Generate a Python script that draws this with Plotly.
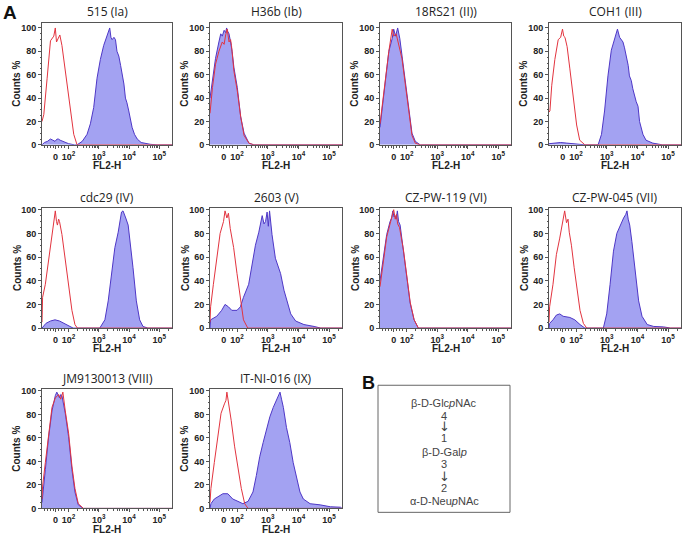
import math
import plotly.graph_objects as go

# x values are in display units of the biexponential FL2-H axis
# (2 = 10^2, 3 = 10^3, ... ; "0" sits at 1.57)
titles = ["515 (Ia)", "H36b (Ib)", "18RS21 (II))", "COH1 (III)",
          "cdc29 (IV)", "2603 (V)", "CZ-PW-119 (VI)", "CZ-PW-045 (VII)",
          "JM9130013 (VIII)", "IT-NI-016 (IX)"]

x_tickvals = [1.57, 2, 3, 4, 5]
x_ticktext = ["0", "10<sup>2</sup>", "10<sup>3</sup>", "10<sup>4</sup>", "10<sup>5</sup>"]
y_tickvals = [0, 20, 40, 60, 80, 100]

# 515 (Ia)
p1_red_x = [1.12, 1.18, 1.29, 1.40, 1.51, 1.56, 1.60, 1.64, 1.71, 1.78, 1.84, 1.95, 2.06, 2.17, 2.28, 5.42]
p1_red_y = [20, 26, 57, 89, 93, 100, 88, 90, 94, 85, 73, 51, 29, 9, 0, 0]
p1_blue_x = [1.12, 1.20, 1.30, 1.40, 1.48, 1.55, 1.62, 1.66, 1.72, 1.80, 1.90, 2.00, 2.20, 2.28, 2.45, 2.61,
             2.72, 2.83, 2.94, 3.05, 3.16, 3.27, 3.32, 3.36, 3.40, 3.44, 3.50, 3.55, 3.60, 3.66, 3.72, 3.77,
             3.83, 3.88, 3.93, 3.99, 4.05, 4.10, 4.18, 4.27, 4.40, 4.49, 4.70, 4.93, 5.42]
p1_blue_y = [0, 2, 3, 5, 4, 3, 5, 5, 4, 3, 2, 1, 0, 0, 3, 9,
             18, 32, 57, 73, 85, 93, 96, 100, 92, 90, 92, 90, 80, 76, 68, 60,
             52, 40, 36, 29, 22, 15, 9, 5, 2, 1.4, 0.5, 0, 0]

# H36b (Ib)
p2_red_x = [1.12, 1.20, 1.30, 1.41, 1.52, 1.58, 1.63, 1.68, 1.74, 1.79, 1.82, 1.90, 2.01, 2.12, 2.23, 2.39, 2.55, 5.42]
p2_red_y = [27, 49, 69, 80, 88, 86, 94, 99, 88, 90, 85, 63, 46, 24, 8, 1.4, 0, 0]
p2_blue_x = [1.12, 1.20, 1.30, 1.41, 1.47, 1.52, 1.58, 1.63, 1.66, 1.70, 1.74, 1.79, 1.84, 1.90, 2.01, 2.12, 2.23, 2.39, 2.55, 5.42]
p2_blue_y = [40, 55, 74, 88, 95, 93, 98, 96, 100, 97, 95, 88, 80, 66, 49, 24, 10, 1.4, 0, 0]

# 18RS21 (II)
p3_red_x = [1.12, 1.20, 1.30, 1.41, 1.52, 1.57, 1.65, 1.72, 1.84, 1.95, 2.06, 2.17, 2.28, 2.44, 5.42]
p3_red_y = [18, 35, 60, 80, 99, 93, 95, 88, 74, 52, 29, 8, 1.4, 0, 0]
p3_blue_x = [1.12, 1.20, 1.30, 1.41, 1.52, 1.57, 1.63, 1.70, 1.77, 1.84, 1.95, 2.06, 2.17, 2.28, 2.44, 5.42]
p3_blue_y = [15, 32, 57, 80, 91, 99, 93, 100, 91, 77, 55, 32, 10, 3, 0, 0]

# COH1 (III)
p4_red_x = [1.12, 1.15, 1.21, 1.31, 1.42, 1.50, 1.56, 1.60, 1.64, 1.71, 1.80, 1.91, 2.02, 2.12, 2.29, 5.42]
p4_red_y = [28, 29, 51, 73, 90, 92, 99, 93, 92, 84, 65, 40, 17, 4, 0, 0]
p4_blue_x = [1.12, 1.30, 1.50, 1.70, 1.90, 2.10, 2.30, 2.72, 2.83, 2.93, 3.04, 3.15, 3.26, 3.30, 3.35, 3.42,
             3.48, 3.53, 3.58, 3.64, 3.70, 3.74, 3.80, 3.85, 3.90, 3.96, 4.02, 4.07, 4.18, 4.28, 4.50, 4.82, 5.42]
p4_blue_y = [1, 1.5, 2, 1.5, 1, 0.5, 0, 0, 9, 29, 59, 81, 92, 95, 99, 92,
             90, 88, 83, 76, 68, 59, 55, 48, 42, 37, 33, 20, 9, 4, 1.5, 0, 0]

# cdc29 (IV)
p5_red_x = [1.12, 1.14, 1.23, 1.34, 1.45, 1.51, 1.56, 1.60, 1.63, 1.67, 1.70, 1.78, 1.89, 2.00, 2.11, 2.21, 2.29, 5.42]
p5_red_y = [5, 26, 37, 57, 81, 90, 99, 90, 87, 92, 90, 79, 57, 37, 15, 3, 0, 0]
p5_blue_x = [1.12, 1.25, 1.40, 1.55, 1.70, 1.85, 2.00, 2.15, 3.03, 3.20, 3.31, 3.42, 3.53, 3.64, 3.70, 3.75,
             3.80, 3.85, 3.89, 3.97, 4.04, 4.13, 4.24, 4.35, 4.46, 4.62, 5.42]
p5_blue_y = [0, 4, 6, 7, 6, 4, 2, 0, 0, 7, 23, 46, 68, 81, 90, 98,
             99, 96, 93, 87, 73, 51, 23, 7, 1.4, 0, 0]

# 2603 (V)
p6_red_x = [1.12, 1.14, 1.23, 1.34, 1.45, 1.56, 1.61, 1.67, 1.72, 1.78, 1.89, 2.00, 2.11, 2.21, 2.35, 5.42]
p6_red_y = [5, 18, 37, 59, 80, 90, 99, 93, 97, 84, 68, 46, 23, 7, 0, 0]
p6_blue_x = [1.12, 1.14, 1.34, 1.50, 1.61, 1.72, 1.83, 2.00, 2.11, 2.21, 2.38, 2.49, 2.60, 2.71, 2.82, 2.88,
             2.93, 2.98, 3.02, 3.06, 3.14, 3.25, 3.42, 3.53, 3.64, 3.75, 3.91, 4.18, 4.51, 4.73, 5.42]
p6_blue_y = [0, 7, 10, 15, 20, 18, 15, 15, 18, 26, 37, 54, 70, 81, 95, 88,
             90, 98, 86, 99, 79, 59, 46, 32, 23, 12, 6, 3, 1.4, 0, 0]

# CZ-PW-119 (VI)
p7_red_x = [1.12, 1.23, 1.34, 1.45, 1.52, 1.57, 1.62, 1.66, 1.70, 1.76, 1.89, 2.00, 2.11, 2.24, 2.38, 5.42]
p7_red_y = [35, 57, 77, 88, 95, 100, 92, 96, 88, 85, 66, 42, 22, 7, 0, 0]
p7_blue_x = [1.12, 1.23, 1.34, 1.45, 1.50, 1.54, 1.58, 1.61, 1.65, 1.69, 1.73, 1.78, 1.89, 2.00, 2.11, 2.24, 2.38, 5.42]
p7_blue_y = [40, 59, 79, 90, 93, 99, 94, 95, 92, 99, 90, 87, 65, 40, 21, 7, 0, 0]

# CZ-PW-045 (VII)
p8_red_x = [1.12, 1.14, 1.25, 1.36, 1.47, 1.58, 1.63, 1.69, 1.74, 1.78, 1.85, 1.94, 2.02, 2.13, 2.24, 2.35, 5.42]
p8_red_y = [5, 18, 37, 62, 76, 93, 99, 89, 92, 81, 70, 51, 35, 15, 4, 0, 0]
p8_blue_x = [1.12, 1.14, 1.25, 1.36, 1.47, 1.58, 1.80, 1.96, 2.13, 2.29, 2.89, 3.00, 3.11, 3.22, 3.33, 3.44,
             3.55, 3.62, 3.66, 3.70, 3.75, 3.82, 3.93, 4.04, 4.15, 4.32, 4.53, 4.86, 5.08, 5.42]
p8_blue_y = [0, 4, 7, 11, 12, 10, 9, 7, 3, 0, 0, 12, 37, 65, 80, 87,
             93, 96, 99, 92, 87, 73, 46, 23, 10, 3, 1.4, 1, 0, 0]

# JM9130013 (VIII)
p9_red_x = [1.12, 1.14, 1.23, 1.34, 1.45, 1.56, 1.67, 1.74, 1.81, 1.89, 2.00, 2.11, 2.21, 2.32, 2.49, 5.42]
p9_red_y = [8, 19, 39, 64, 86, 94, 97, 93, 99, 83, 64, 36, 17, 4, 0, 0]
p9_blue_x = [1.12, 1.14, 1.23, 1.34, 1.45, 1.56, 1.61, 1.70, 1.74, 1.78, 1.89, 2.00, 2.11, 2.21, 2.32, 2.49, 5.42]
p9_blue_y = [5, 11, 33, 61, 83, 96, 99, 94, 97, 96, 81, 61, 33, 14, 3, 0, 0]

# IT-NI-016 (IX)
p10_red_x = [1.12, 1.15, 1.26, 1.37, 1.48, 1.59, 1.64, 1.67, 1.70, 1.73, 1.81, 1.92, 2.03, 2.14, 2.25, 2.36, 5.42]
p10_red_y = [5, 17, 39, 61, 81, 89, 92, 99, 94, 89, 75, 53, 33, 17, 4, 0, 0]
p10_blue_x = [1.12, 1.15, 1.26, 1.43, 1.54, 1.70, 1.86, 2.03, 2.19, 2.36, 2.52, 2.63, 2.74, 2.85, 2.96, 3.07,
              3.18, 3.29, 3.34, 3.40, 3.45, 3.51, 3.61, 3.72, 3.83, 3.94, 4.05, 4.16, 4.38, 4.71, 5.04, 5.37, 5.42]
p10_blue_y = [0, 4, 8, 11, 12.5, 12.5, 8, 6, 4, 6, 14, 28, 44, 56, 67, 78,
              86, 92, 95, 99, 93, 86, 69, 56, 39, 25, 14, 8, 4, 3, 1.4, 1, 0]

# panel B structure text
structure_lines = ["β-D-Glc<i>p</i>NAc", "4", "↓", "1", "β-D-Gal<i>p</i>",
                   "3", "↓", "2", "α-D-Neu<i>p</i>NAc"]

red_series = [(p1_red_x, p1_red_y), (p2_red_x, p2_red_y), (p3_red_x, p3_red_y), (p4_red_x, p4_red_y),
              (p5_red_x, p5_red_y), (p6_red_x, p6_red_y), (p7_red_x, p7_red_y), (p8_red_x, p8_red_y),
              (p9_red_x, p9_red_y), (p10_red_x, p10_red_y)]
blue_series = [(p1_blue_x, p1_blue_y), (p2_blue_x, p2_blue_y), (p3_blue_x, p3_blue_y), (p4_blue_x, p4_blue_y),
               (p5_blue_x, p5_blue_y), (p6_blue_x, p6_blue_y), (p7_blue_x, p7_blue_y), (p8_blue_x, p8_blue_y),
               (p9_blue_x, p9_blue_y), (p10_blue_x, p10_blue_y)]

W, H = 683, 540
# panel boxes in pixels
col_px = [(42, 172), (210, 342), (380, 511), (549, 681)]
row_px = [(20, 144), (208, 330), (392, 513)]
row_ymax = [104.5, 101.5, 101.5]


def fx(px):
    return px / W


def fy(py):
    return 1 - py / H


# minor ticks on the log part of the axis
minor_x = [1.2, 1.3, 1.4, 1.5, 1.65, 1.75, 1.85]
for d in [2, 3, 4, 5]:
    for k in range(2, 10):
        v = d + math.log10(k)
        if v < 5.42:
            minor_x.append(v)

fig = go.Figure()
annotations = []
layout = {}
axis_col = '#555555'
tick_font = dict(family='Liberation Sans, Arial', size=9, color='#222222', weight='bold')

for i in range(10):
    r, c = divmod(i, 4)
    n = '' if i == 0 else str(i + 1)
    x0, x1 = col_px[c]
    y0, y1 = row_px[r]
    bx, by = blue_series[i]
    rx, ry = red_series[i]
    fig.add_trace(go.Scatter(x=bx, y=by, mode='lines', fill='tozeroy',
                             fillcolor='#a3a2f2', line=dict(color='#4e37c6', width=1),
                             xaxis='x' + n, yaxis='y' + n, showlegend=False, hoverinfo='skip'))
    fig.add_trace(go.Scatter(x=rx, y=ry, mode='lines',
                             line=dict(color='#e2343f', width=1),
                             xaxis='x' + n, yaxis='y' + n, showlegend=False, hoverinfo='skip'))
    layout['xaxis' + n] = dict(
        domain=[fx(x0), fx(x1)], anchor='y' + n, range=[1.12, 5.42],
        tickmode='array', tickvals=x_tickvals, ticktext=x_ticktext,
        ticks='outside', ticklen=3, tickcolor=axis_col, tickfont=tick_font,
        minor=dict(tickmode='array', tickvals=minor_x, ticks='outside', ticklen=2, tickcolor=axis_col),
        showline=True, linecolor=axis_col, linewidth=1, mirror=True,
        showgrid=False, zeroline=False, fixedrange=True)
    layout['yaxis' + n] = dict(
        domain=[fy(y1), fy(y0)], anchor='x' + n, range=[0, row_ymax[r]],
        tickmode='array', tickvals=y_tickvals,
        ticks='outside', ticklen=3, tickcolor=axis_col, tickfont=tick_font,
        minor=dict(dtick=5, ticks='outside', ticklen=1.5, tickcolor=axis_col),
        showline=True, linecolor=axis_col, linewidth=1, mirror=True,
        showgrid=False, zeroline=False, fixedrange=True)
    # panel title
    annotations.append(dict(text=titles[i], x=fx((x0 + x1) / 2), y=fy(y0 - 11),
                            xref='paper', yref='paper', showarrow=False,
                            xanchor='center', yanchor='middle',
                            font=dict(family='Open Sans', size=12, color='#222222')))
    # axis titles
    annotations.append(dict(text='FL2-H', x=fx((x0 + x1) / 2), y=fy(y1 + 21),
                            xref='paper', yref='paper', showarrow=False,
                            xanchor='center', yanchor='middle',
                            font=dict(family='Liberation Sans, Arial', size=10, color='#222222', weight='bold')))
    annotations.append(dict(text='Counts %', x=fx(x0 - 25), y=fy((y0 + y1) / 2),
                            xref='paper', yref='paper', showarrow=False, textangle=-90,
                            xanchor='center', yanchor='middle',
                            font=dict(family='Liberation Sans, Arial', size=10, color='#222222', weight='bold')))

# panel letters
annotations.append(dict(text='A', x=fx(1), y=fy(10), xref='paper', yref='paper', showarrow=False,
                        xanchor='left', yanchor='middle',
                        font=dict(family='Liberation Sans, Arial', size=19, color='#111111', weight='bold')))
annotations.append(dict(text='B', x=fx(360), y=fy(386), xref='paper', yref='paper', showarrow=False,
                        xanchor='left', yanchor='middle',
                        font=dict(family='Liberation Sans, Arial', size=18, color='#111111', weight='bold')))

# panel B text lines
line_y = [406, 419, 430, 442, 456, 468, 481, 492, 505]
for txt, py in zip(structure_lines, line_y):
    is_arrow = txt == "↓"
    annotations.append(dict(text=txt, x=fx(444), y=fy(py), xref='paper', yref='paper', showarrow=False,
                            xanchor='center', yanchor='middle',
                            font=dict(family='DejaVu Sans' if is_arrow else 'Liberation Sans, Arial',
                                      size=13 if is_arrow else 11, color='#444444')))

fig.update_layout(
    width=W, height=H,
    margin=dict(l=0, r=0, t=0, b=0),
    paper_bgcolor='white', plot_bgcolor='white',
    annotations=annotations,
    shapes=[dict(type='rect', xref='paper', yref='paper',
                 x0=fx(378), x1=fx(510), y0=fy(517), y1=fy(388),
                 line=dict(color='#666666', width=1))],
    **layout
)

fig.write_html("out.html", config={'displayModeBar': False},
               post_script="document.body.style.margin='0';")
